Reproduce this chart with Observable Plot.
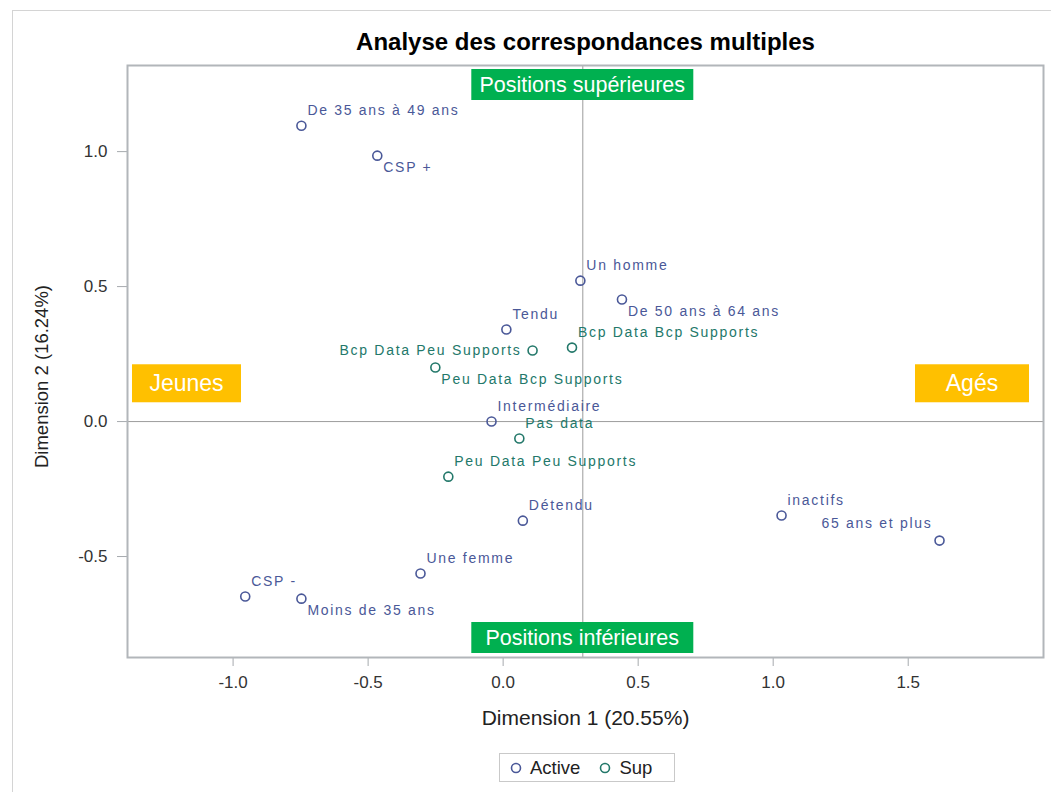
<!DOCTYPE html>
<html><head><meta charset="utf-8">
<script src="https://cdn.jsdelivr.net/npm/d3@7"></script>
<script src="https://cdn.jsdelivr.net/npm/@observablehq/plot@0.6"></script>
<style>
html,body{margin:0;padding:0;background:#fff;}
#wrap{position:relative;width:1051px;height:792px;overflow:hidden;background:#fff;font-family:Arial,"Liberation Sans",sans-serif;}
#outer{position:absolute;left:12px;top:10px;width:1100px;height:900px;border-top:1px solid #d4d4d4;border-left:1px solid #d4d4d4;}
#chart{position:absolute;left:0;top:0;}
#legend{position:absolute;left:499px;top:753px;width:176px;height:29px;box-sizing:border-box;border:1px solid #c9c9c9;background:#fff;display:flex;align-items:center;font-size:18.5px;color:#222;}
#legend .item{display:flex;align-items:center;}
#legend svg{display:block;}
</style>
</head><body>
<div id="wrap"><div id="outer"></div><div id="chart"></div><div id="legend"></div></div>
<script>
// ---- data ----
const labels = ["De 35 ans à 49 ans","CSP +","Un homme","De 50 ans à 64 ans","Tendu","Bcp Data Peu Supports","Bcp Data Bcp Supports","Peu Data Bcp Supports","Intermédiaire","Pas data","Peu Data Peu Supports","Détendu","inactifs","65 ans et plus","Une femme","CSP -","Moins de 35 ans"];
const dim1 = [-0.747,-0.466,0.286,0.440,0.012,0.109,0.255,-0.251,-0.043,0.060,-0.203,0.073,1.031,1.616,-0.306,-0.955,-0.747];
const dim2 = [1.096,0.985,0.522,0.452,0.341,0.263,0.274,0.200,0.000,-0.063,-0.204,-0.367,-0.348,-0.441,-0.563,-0.648,-0.656];
const types = ["Active","Active","Active","Active","Active","Sup","Sup","Sup","Active","Sup","Sup","Active","Active","Active","Active","Active","Active"];
const labelPlace = ["ne","se","ne","se","ne","w","ne","se","ne","ne","ne","ne","ne","nw","ne","ne","se"];
const groups = ["Active","Sup"];
const xTicks = [-1.0,-0.5,0.0,0.5,1.0,1.5];
const yTicks = [-0.5,0.0,0.5,1.0];
const refX = 0.295, refY = 0.0;
const annotTexts = ["Positions supérieures","Positions inférieures","Jeunes","Agés"];
const annotY = 0.14;
const title = "Analyse des correspondances multiples";
const xLabel = "Dimension 1 (20.55%)";
const yLabel = "Dimension 2 (16.24%)";

// ---- styles ----
const colors = ["#4a5898","#23786a"];
const font = "Arial, 'Liberation Sans', sans-serif";
const green = "#00b050", gold = "#ffc000";

const data = labels.map((l,i)=>({label:l, x:dim1[i], y:dim2[i], type:types[i], place:labelPlace[i]}));

const placeOpts = {
  ne:{textAnchor:"start", dx:6, dy:-15},
  se:{textAnchor:"start", dx:6, dy:12},
  w:{textAnchor:"end", dx:-11, dy:0},
  nw:{textAnchor:"end", dx:-7, dy:-17}
};

function boxAnnot(text, anchor, w, h, fill, fontSize, off) {
  const d = [{text, x: refX, y: annotY}];
  const opts = {text:"text", fill:"white", fontSize};
  if (anchor === "top" || anchor === "bottom") opts.x = "x"; else opts.y = "y";
  opts.frameAnchor = anchor;
  opts.render = (index, scales, values, dims, ctx, next) => {
    let cx, cy;
    const {width, height, marginLeft, marginRight, marginTop, marginBottom} = dims;
    if (anchor === "top") { cx = scales.x(d[0].x); cy = marginTop + off + h/2; }
    else if (anchor === "bottom") { cx = scales.x(d[0].x); cy = height - marginBottom - off - h/2; }
    else if (anchor === "left") { cx = marginLeft + off + w/2; cy = scales.y(d[0].y); }
    else { cx = width - marginRight - off - w/2; cy = scales.y(d[0].y); }
    const g = d3.create("svg:g");
    g.append("rect").attr("x", cx - w/2).attr("y", cy - h/2).attr("width", w).attr("height", h).attr("fill", fill);
    g.append("text").attr("x", cx).attr("y", cy).attr("text-anchor","middle").attr("dominant-baseline","central")
      .attr("fill","white").attr("font-size", fontSize).attr("font-family", font).text(text);
    return g.node();
  };
  return Plot.text(d, opts);
}

const plot = Plot.plot({
  width: 1051, height: 748,
  marginLeft: 127, marginRight: 8, marginTop: 65, marginBottom: 91,
  style: {fontFamily: font, background: "none", overflow: "visible"},
  x: {domain: [-1.391, 2.001], label: null},
  y: {domain: [-0.874, 1.319], label: null},
  color: {domain: groups, range: colors},
  marks: [
    Plot.ruleY([refY], {stroke: "#9c9c9c", strokeWidth: 1}),
    Plot.ruleX([refX], {stroke: "#9c9c9c", strokeWidth: 1}),
    Plot.axisX({ticks: xTicks, tickFormat: d => d.toFixed(1), tickSize: 9, tickPadding: 9, fontSize: 17, fill: "#333", stroke: "#a6aaae", label: null}),
    Plot.axisY({ticks: yTicks, tickFormat: d => d.toFixed(1), tickSize: 10, tickPadding: 10, fontSize: 17, fill: "#333", stroke: "#a6aaae", label: null}),
    Plot.frame({stroke: "#b2b6ba", strokeWidth: 2}),
    boxAnnot(annotTexts[0], "top", 222, 31, green, 21.5, 4),
    boxAnnot(annotTexts[1], "bottom", 222, 31, green, 21.5, 4),
    boxAnnot(annotTexts[2], "left", 109, 38, gold, 23, 5),
    boxAnnot(annotTexts[3], "right", 114, 38, gold, 23, 14),
    Plot.dot(data, {x: "x", y: "y", stroke: "type", r: 4.5, strokeWidth: 1.6, fill: "none"}),
    ...Object.entries(placeOpts).map(([k, o]) => Plot.text(data.filter(d => d.place === k), {
      x: "x", y: "y", text: "label", fill: "type", fontSize: 14, textAnchor: o.textAnchor, dx: o.dx, dy: o.dy
    })),
    Plot.text([title], {frameAnchor: "top", lineAnchor: "middle", dy: -23, text: d => d, fontSize: 24, fontWeight: "bold", fill: "#000"}),
    Plot.text([xLabel], {frameAnchor: "bottom", lineAnchor: "middle", dy: 61, text: d => d, fontSize: 21, fill: "#222"}),
    Plot.text([yLabel], {frameAnchor: "left", textAnchor: "middle", lineAnchor: "middle", dx: -85, dy: 15, rotate: -90, text: d => d, fontSize: 18.5, fill: "#222"})
  ]
});
// letter spacing for point labels
d3.select(plot).selectAll("text").filter(function(){ return labels.includes(this.textContent); }).attr("letter-spacing", "1.7px");
document.getElementById("chart").appendChild(plot);

// legend (below the svg)
const leg = d3.select("#legend");
groups.forEach((g, i) => {
  const it = leg.append("div").attr("class","item").style("margin-left", i === 0 ? "10px" : "19px");
  const s = it.append("svg").attr("width", 12).attr("height", 12);
  s.append("circle").attr("cx", 6).attr("cy", 6).attr("r", 4.5).attr("fill","none").attr("stroke", colors[i]).attr("stroke-width", 1.6);
  it.append("span").style("margin-left", "8px").text(g);
});
</script>
</body></html>
